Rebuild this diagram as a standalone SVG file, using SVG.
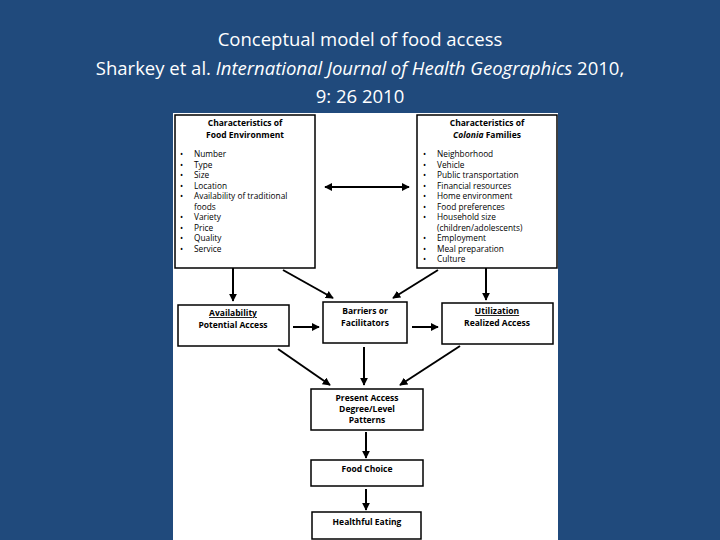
<svg xmlns="http://www.w3.org/2000/svg" width="720" height="540" viewBox="0 0 720 540">
<defs>
<style>
.t{font-family:"Open Sans","Liberation Sans",sans-serif;fill:#fff;font-size:18.5px;text-anchor:middle}
.b{fill:#fff;stroke:#000;stroke-width:1.5}
.h{font-family:"Open Sans","Liberation Sans",sans-serif;font-size:8.5px;font-weight:bold;text-anchor:middle;fill:#000}
.l{font-family:"Open Sans","Liberation Sans",sans-serif;font-size:8.3px;fill:#000}
.c line{stroke:#000;stroke-width:2;marker-end:url(#a)}
</style>
<marker id="a" viewBox="0 0 10 10" refX="9" refY="5" markerWidth="4" markerHeight="4" orient="auto-start-reverse"><path d="M0 0L10 5L0 10z" fill="#000"/></marker>
</defs>
<rect width="720" height="540" fill="#204a7c"/>
<text class="t" x="360" y="46">Conceptual model of food access</text>
<text class="t" x="360" y="75">Sharkey et al. <tspan font-style="italic">International Journal of Health Geographics</tspan> 2010,</text>
<text class="t" x="360" y="103">9: 26 2010</text>
<rect x="173" y="113" width="385" height="427" fill="#fff"/>
<g id="food-env"><rect class="b" x="175" y="115" width="140" height="153"/>
<text class="h" x="245" y="126">Characteristics of</text><text class="h" x="245" y="138" font-size="9.5">Food Environment</text>
<text class="l" x="180" y="157">•<tspan x="194">Number</tspan></text>
<text class="l" x="180" y="168">•<tspan x="194">Type</tspan></text>
<text class="l" x="180" y="178">•<tspan x="194">Size</tspan></text>
<text class="l" x="180" y="189">•<tspan x="194">Location</tspan></text>
<text class="l" x="180" y="199">•<tspan x="194">Availability of traditional</tspan></text>
<text class="l" x="194" y="210">foods</text>
<text class="l" x="180" y="220">•<tspan x="194">Variety</tspan></text>
<text class="l" x="180" y="231">•<tspan x="194">Price</tspan></text>
<text class="l" x="180" y="241">•<tspan x="194">Quality</tspan></text>
<text class="l" x="180" y="252">•<tspan x="194">Service</tspan></text></g>
<g id="colonia"><rect class="b" x="417" y="115" width="140" height="153"/>
<text class="h" x="487" y="126">Characteristics of</text><text class="h" x="487" y="138" font-size="9"><tspan font-style="italic">Colonia</tspan> Families</text>
<text class="l" x="423" y="157">•<tspan x="437">Neighborhood</tspan></text>
<text class="l" x="423" y="168">•<tspan x="437">Vehicle</tspan></text>
<text class="l" x="423" y="178">•<tspan x="437">Public transportation</tspan></text>
<text class="l" x="423" y="189">•<tspan x="437">Financial resources</tspan></text>
<text class="l" x="423" y="199">•<tspan x="437">Home environment</tspan></text>
<text class="l" x="423" y="210">•<tspan x="437">Food preferences</tspan></text>
<text class="l" x="423" y="220">•<tspan x="437">Household size</tspan></text>
<text class="l" x="437" y="231">(children/adolescents)</text>
<text class="l" x="423" y="241">•<tspan x="437">Employment</tspan></text>
<text class="l" x="423" y="252">•<tspan x="437">Meal preparation</tspan></text>
<text class="l" x="423" y="262">•<tspan x="437">Culture</tspan></text></g>
<g id="availability"><rect class="b" x="178" y="305" width="111" height="41"/>
<text class="h" x="233" y="316" text-decoration="underline">Availability</text><text class="h" x="233" y="328">Potential Access</text></g>
<g id="barriers"><rect class="b" x="323" y="302" width="84" height="41"/>
<text class="h" x="365" y="314">Barriers or</text><text class="h" x="365" y="326">Facilitators</text></g>
<g id="utilization"><rect class="b" x="442" y="303" width="111" height="41"/>
<text class="h" x="497" y="314" text-decoration="underline">Utilization</text><text class="h" x="497" y="326">Realized Access</text></g>
<g id="present"><rect class="b" x="311" y="389" width="112" height="41"/>
<text class="h" x="367" y="401">Present Access</text><text class="h" x="367" y="412" font-size="7.5">Degree/Level</text><text class="h" x="367" y="423" font-size="7.5">Patterns</text></g>
<g id="choice"><rect class="b" x="311" y="460" width="112" height="26"/>
<text class="h" x="367" y="472">Food Choice</text></g>
<g id="eating"><rect class="b" x="312" y="512" width="109" height="27"/>
<text class="h" x="367" y="525">Healthful Eating</text></g>
<g class="c">
<line x1="325" y1="187" x2="409" y2="187" style="marker-start:url(#a)"/>
<line x1="233" y1="268" x2="233" y2="301"/>
<line x1="283" y1="270" x2="333" y2="298"/>
<line x1="438" y1="270" x2="393" y2="298"/>
<line x1="486" y1="268" x2="486" y2="300"/>
<line x1="293" y1="327" x2="319" y2="327"/>
<line x1="412" y1="327" x2="438" y2="327"/>
<line x1="278" y1="349" x2="330" y2="385"/>
<line x1="364" y1="347" x2="364" y2="385"/>
<line x1="460" y1="346" x2="400" y2="385"/>
<line x1="366" y1="432" x2="366" y2="458"/>
<line x1="366" y1="489" x2="366" y2="510"/>
</g>
</svg>
